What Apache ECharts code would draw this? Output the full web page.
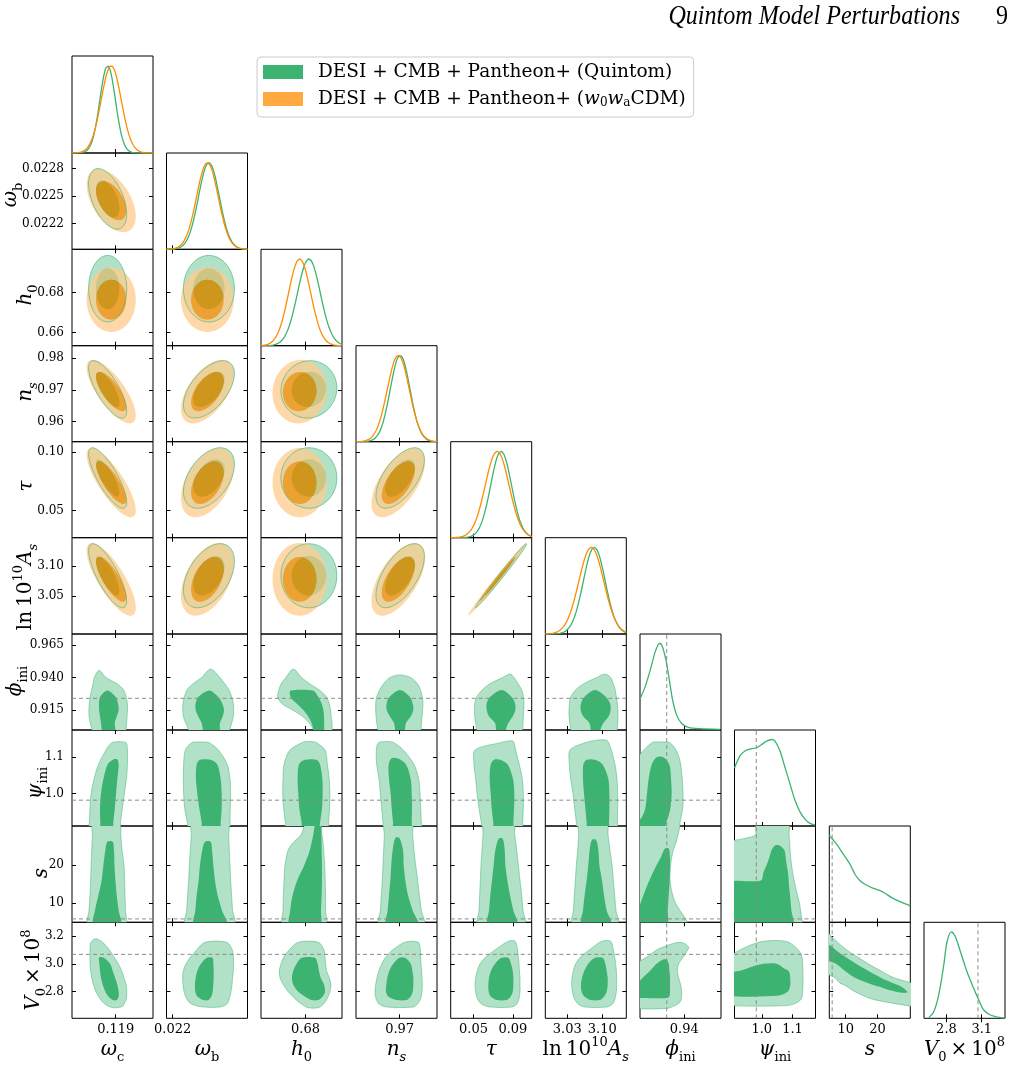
<!DOCTYPE html>
<html>
<head>
<meta charset="utf-8">
<title>Quintom corner plot</title>
<script src="https://cdn.jsdelivr.net/npm/echarts@6/dist/echarts.min.js"></script>
<style>
  html, body { margin: 0; padding: 0; background: #fff; }
  #chart { width: 1014px; height: 1067px; }
</style>
</head>
<body>
<div id="chart"></div>
<script>
// ---- parameters, ranges and ticks ----
const axisMin = [0.1163, 0.02192, 0.6535, 0.95369, 0.0268, 2.986, 0.8996, 0.911, 4.85, 2.609];
const axisMax = [0.1213, 0.02297, 0.7017, 0.98398, 0.1091, 3.148, 0.9735, 1.175, 30.35, 3.298];
const xTickLabels = [['0.119'], ['0.022'], ['0.68'], ['0.97'], ['0.05', '0.09'], ['3.03', '3.10'], ['0.94'], ['1.0', '1.1'], ['10', '20'], ['2.8', '3.1']];
const yTickLabels = [[], ['0.0222', '0.0225', '0.0228'], ['0.66', '0.68'], ['0.96', '0.97', '0.98'], ['0.05', '0.10'], ['3.05', '3.10'], ['0.915', '0.940', '0.965'], ['1.0', '1.1'], ['10', '20'], ['2.8', '3.0', '3.2']];
const refValues = [null, null, null, null, null, null, 0.924, 0.982, 5.75, 3.068];

// ---- gaussian summaries of the six standard parameters ----
const quintomMean = [0.11850, 0.02247, 0.6820, 0.9702, 0.0780, 3.0840];
const quintomSigma = [0.00048, 0.000135, 0.0068, 0.0037, 0.0106, 0.0220];
const w0waMean = [0.11872, 0.02245, 0.6765, 0.9695, 0.0740, 3.0780];
const w0waSigma = [0.00062, 0.00014, 0.0066, 0.0041, 0.0121, 0.0250];
const corr = [
  [1, -0.5, 0, -0.75, -0.8, -0.78],
  [-0.5, 1, 0, 0.55, 0.45, 0.45],
  [0, 0, 1, 0.05, 0, 0],
  [-0.75, 0.55, 0.05, 1, 0.6, 0.6],
  [-0.8, 0.45, 0, 0.6, 1, 0.993],
  [-0.78, 0.45, 0, 0.6, 0.993, 1]
];

// ---- 1D marginals of the quintom parameters ----
const phiGrid = [0.8996, 0.9042, 0.9088, 0.9133, 0.9164, 0.9179, 0.9203, 0.9234, 0.9264, 0.9294, 0.9331, 0.9376, 0.9437, 0.9544, 0.9726];
const phiDens = [0.36, 0.496, 0.687, 0.897, 0.992, 1.0, 0.954, 0.802, 0.573, 0.344, 0.172, 0.076, 0.031, 0.015, 0.008];
const psiGrid = [0.911, 0.9289, 0.9452, 0.9669, 0.9833, 0.9996, 1.0158, 1.0321, 1.043, 1.0593, 1.0756, 1.0919, 1.1082, 1.1245, 1.1408, 1.1571, 1.1734];
const psiDens = [0.67, 0.81, 0.867, 0.894, 0.905, 0.943, 0.981, 1.0, 0.981, 0.867, 0.677, 0.487, 0.297, 0.163, 0.08, 0.03, 0.011];
const sGrid = [4.85, 7.16, 9.26, 11.36, 12.94, 14.3, 16.08, 18.18, 20.28, 22.38, 24.48, 27.1, 30.35];
const sDens = [1.0, 0.9, 0.785, 0.669, 0.554, 0.488, 0.438, 0.4, 0.373, 0.335, 0.285, 0.238, 0.19];
const v0Grid = [2.649, 2.692, 2.734, 2.777, 2.805, 2.842, 2.876, 2.919, 2.975, 3.032, 3.075, 3.117, 3.174, 3.259, 3.298];
const v0Dens = [0.008, 0.077, 0.269, 0.615, 0.885, 1.0, 0.942, 0.769, 0.538, 0.346, 0.212, 0.096, 0.038, 0.008, 0.004];

// ---- 2D contours involving quintom parameters: [rowValue, colLeft, colRight] per level ----
const phiOuter = [
  [[0.9455,0.11797,0.11797],[0.94,0.11768,0.1184],[0.935,0.1176,0.1191],[0.93,0.1175,0.11951],[0.92,0.11737,0.11972],[0.91,0.11735,0.1197],[0.90,0.11752,0.11964],[0.893,0.11756,0.11962]],
  [[0.9465,0.022492,0.022492],[0.94,0.022376,0.022613],[0.935,0.022259,0.022678],[0.93,0.022181,0.022734],[0.92,0.022134,0.022786],[0.91,0.022138,0.022786],[0.90,0.022203,0.022743],[0.893,0.022216,0.022734]],
  [[0.9465,0.6727,0.6727],[0.94,0.6683,0.6777],[0.935,0.6654,0.6826],[0.93,0.664,0.6886],[0.925,0.6634,0.6925],[0.92,0.6658,0.6941],[0.915,0.6723,0.6949],[0.91,0.6783,0.6953],[0.905,0.6822,0.6957],[0.90,0.6846,0.6959],[0.893,0.6856,0.6961]],
  [[0.942,0.97015,0.97015],[0.94,0.96641,0.97414],[0.935,0.96391,0.97676],[0.93,0.96242,0.97788],[0.925,0.96142,0.9785],[0.92,0.96105,0.97875],[0.91,0.96117,0.97837],[0.90,0.96179,0.978],[0.893,0.96204,0.97788]],
  [[0.9427,0.08707,0.08707],[0.94,0.07962,0.09113],[0.935,0.06607,0.09554],[0.93,0.05828,0.09926],[0.925,0.0532,0.10061],[0.92,0.05116,0.10129],[0.91,0.05116,0.10061],[0.90,0.0532,0.09994],[0.893,0.05387,0.0996]],
  [[0.9427,3.1054,3.1054],[0.94,3.0887,3.1167],[0.935,3.0621,3.1221],[0.93,3.0454,3.1261],[0.925,3.0368,3.1281],[0.92,3.0341,3.1301],[0.91,3.0334,3.1314],[0.90,3.0368,3.1301],[0.893,3.0381,3.1294]]
];
const phiInner = [
  [[0.930,0.11848,0.11848],[0.925,0.11803,0.119],[0.92,0.11797,0.11914],[0.915,0.11797,0.11918],[0.91,0.11803,0.11906],[0.905,0.11809,0.11894],[0.90,0.11813,0.11898],[0.893,0.11815,0.119]],
  [[0.930,0.022475,0.022475],[0.925,0.022332,0.022592],[0.92,0.022298,0.022643],[0.915,0.022298,0.022665],[0.91,0.022332,0.022648],[0.905,0.022376,0.022613],[0.90,0.022389,0.022613],[0.893,0.022389,0.022613]],
  [[0.9298,0.6711,0.6846],[0.925,0.6711,0.6876],[0.92,0.6747,0.6896],[0.915,0.6787,0.6906],[0.91,0.6816,0.691],[0.905,0.6836,0.6911],[0.90,0.6846,0.6911],[0.893,0.685,0.6911]],
  [[0.9304,0.97015,0.97015],[0.925,0.96616,0.97389],[0.92,0.96516,0.97488],[0.915,0.96516,0.97513],[0.91,0.96641,0.97414],[0.905,0.9679,0.97239],[0.90,0.96828,0.97202],[0.893,0.96828,0.97202]],
  [[0.9304,0.0786,0.0786],[0.925,0.06675,0.08876],[0.92,0.06336,0.09215],[0.915,0.06336,0.09249],[0.91,0.06573,0.08978],[0.905,0.07183,0.08537],[0.90,0.07285,0.08301],[0.893,0.07285,0.08301]],
  [[0.9304,3.0854,3.0854],[0.925,3.0641,3.1074],[0.92,3.0574,3.1154],[0.915,3.0567,3.1167],[0.91,3.0621,3.1127],[0.905,3.0741,3.1021],[0.90,3.0767,3.0967],[0.893,3.0767,3.0967]]
];
const psiOuter = [
  [[1.143,0.11906,0.11927],[1.14,0.11875,0.11964],[1.12,0.1184,0.11972],[1.08,0.11793,0.11972],[1.04,0.11766,0.11966],[1.00,0.11748,0.11953],[0.96,0.11741,0.11941],[0.92,0.11737,0.11929],[0.90,0.11737,0.11927]],
  [[1.142,0.022311,0.022419],[1.14,0.022246,0.022475],[1.12,0.022164,0.022592],[1.08,0.022142,0.022708],[1.04,0.022138,0.022743],[1.00,0.022142,0.022751],[0.96,0.022155,0.022747],[0.92,0.02219,0.022743],[0.90,0.022207,0.022743]],
  [[1.143,0.6796,0.6846],[1.14,0.6777,0.6866],[1.12,0.6707,0.6916],[1.08,0.6672,0.693],[1.04,0.6666,0.6941],[1.00,0.6664,0.6945],[0.96,0.667,0.6943],[0.92,0.668,0.6937],[0.90,0.6683,0.6935]],
  [[1.143,0.96391,0.96641],[1.14,0.96204,0.9679],[1.12,0.96129,0.97139],[1.08,0.96142,0.97538],[1.04,0.96229,0.97713],[1.00,0.96279,0.97763],[0.96,0.96329,0.97788],[0.92,0.96379,0.97813],[0.90,0.96404,0.97825]],
  [[1.145,0.08537,0.08978],[1.14,0.07693,0.09113],[1.12,0.0515,0.09282],[1.08,0.05049,0.09655],[1.04,0.05218,0.0996],[1.00,0.05354,0.10061],[0.96,0.05557,0.10061],[0.92,0.05794,0.09994],[0.90,0.05929,0.09994]],
  [[1.147,3.0887,3.1087],[1.14,3.0654,3.1127],[1.12,3.0354,3.1181],[1.08,3.0341,3.1254],[1.04,3.0368,3.1294],[1.00,3.0414,3.1307],[0.96,3.0447,3.1307],[0.92,3.0481,3.1301],[0.90,3.0494,3.1301]],
  [[1.142,0.9133,0.9224],[1.14,0.9103,0.927],[1.12,0.9033,0.9325],[1.10,0.898,0.9352],[1.08,0.8966,0.9367],[1.04,0.8966,0.9382],[1.00,0.8966,0.9389],[0.96,0.8966,0.9386],[0.92,0.8966,0.9361],[0.90,0.8966,0.9355]]
];
const psiInner = [
  [[1.094,0.11885,0.1191],[1.08,0.1185,0.11918],[1.04,0.11824,0.1191],[1.00,0.11809,0.11902],[0.96,0.11803,0.11894],[0.92,0.11805,0.11885],[0.90,0.11807,0.11881]],
  [[1.093,0.022354,0.022492],[1.08,0.022311,0.022579],[1.04,0.022302,0.022622],[1.00,0.02232,0.022635],[0.96,0.022345,0.022635],[0.92,0.022376,0.022622],[0.90,0.022384,0.022613]],
  [[1.093,0.6796,0.6866],[1.08,0.6761,0.6886],[1.04,0.6753,0.69],[1.00,0.6757,0.6902],[0.96,0.6763,0.6898],[0.92,0.6777,0.6886],[0.90,0.6783,0.6876]],
  [[1.097,0.96703,0.96915],[1.08,0.96591,0.97239],[1.04,0.96603,0.97414],[1.00,0.96666,0.97451],[0.96,0.96703,0.97464],[0.92,0.96753,0.97451],[0.90,0.96765,0.97451]],
  [[1.093,0.07081,0.07693],[1.08,0.06742,0.0847],[1.04,0.0664,0.09012],[1.00,0.06742,0.09147],[0.96,0.06844,0.09113],[0.92,0.07013,0.09045],[0.90,0.07081,0.09012]],
  [[1.093,3.0687,3.0854],[1.08,3.0621,3.1007],[1.04,3.0614,3.1121],[1.00,3.0634,3.1141],[0.96,3.0661,3.1141],[0.92,3.0687,3.1134],[0.90,3.0701,3.1127]],
  [[1.10,0.9148,0.9209],[1.08,0.9103,0.9264],[1.04,0.9075,0.9279],[1.00,0.906,0.9285],[0.96,0.9045,0.9273],[0.94,0.9021,0.9258],[0.92,0.8981,0.9234],[0.90,0.8966,0.9218]]
];
const sOuter = [
  [[31,0.1176,0.11922],[28,0.11756,0.11931],[24,0.11752,0.11939],[20,0.11748,0.11951],[16,0.11745,0.11955],[12,0.11741,0.11957],[8,0.11735,0.1196],[4,0.11729,0.1196]],
  [[31,0.02225,0.022717],[28,0.022242,0.022726],[24,0.022229,0.022734],[20,0.022216,0.022743],[16,0.022207,0.022752],[12,0.022194,0.022764],[8,0.022181,0.022777],[4,0.022168,0.022799]],
  [[31,0.6803,0.6886],[28,0.6773,0.6898],[26,0.6727,0.6904],[24,0.6697,0.6908],[20,0.6678,0.6914],[16,0.6672,0.6917],[12,0.6668,0.6919],[8,0.6666,0.6919],[4,0.6664,0.6919]],
  [[31,0.96441,0.97451],[28,0.96429,0.97488],[24,0.96404,0.97538],[20,0.96379,0.976],[16,0.96354,0.97675],[12,0.96316,0.97738],[8,0.96279,0.97813],[4,0.96229,0.97912]],
  [[31,0.06065,0.09045],[28,0.05963,0.09181],[24,0.05862,0.09384],[20,0.0576,0.09554],[16,0.05692,0.09723],[12,0.05624,0.09892],[8,0.05557,0.10028],[4,0.05455,0.10197]],
  [[31,3.0541,3.1087],[28,3.0527,3.1114],[24,3.0507,3.1154],[20,3.0481,3.1194],[16,3.0461,3.1221],[12,3.0441,3.1247],[8,3.0421,3.1274],[4,3.0401,3.1307]],
  [[31,0.8966,0.9349],[28,0.8966,0.9343],[26,0.8966,0.9325],[24,0.8966,0.93],[22,0.8966,0.9285],[20,0.8966,0.9276],[16,0.8966,0.927],[12,0.8966,0.9294],[10,0.8966,0.9319],[8,0.8966,0.9361],[6,0.8966,0.9407],[4,0.8966,0.9437]],
  [[31,0.9832,1.0865],[28,0.9789,1.0887],[27,0.9398,1.0898],[26,0.8963,1.0908],[22,0.8963,1.0941],[18,0.8963,1.1006],[14,0.8963,1.1104],[10,0.8963,1.1224],[6,0.8963,1.1299],[4,0.8963,1.1321]]
];
const sInner = [
  [[26.2,0.11848,0.11881],[24,0.11836,0.11889],[20,0.11824,0.11892],[16,0.11813,0.11898],[12,0.11793,0.11906],[8,0.11772,0.11918],[4,0.11762,0.11931]],
  [[26.2,0.022419,0.022492],[24,0.022384,0.02251],[20,0.022354,0.022527],[16,0.022337,0.022548],[12,0.022311,0.022583],[8,0.022294,0.022639],[4,0.022276,0.022708]],
  [[31,0.686,0.689],[28,0.6846,0.6894],[24,0.6826,0.6896],[20,0.6793,0.6898],[16,0.6751,0.6898],[12,0.6723,0.6896],[8,0.6709,0.6892],[4,0.6705,0.6886]],
  [[27.2,0.9684,0.9699],[24,0.9674,0.97127],[20,0.9669,0.97152],[16,0.96653,0.97214],[12,0.96603,0.97314],[8,0.96553,0.97488],[4,0.96504,0.977]],
  [[27,0.07556,0.07962],[24,0.07217,0.08166],[20,0.07047,0.08233],[16,0.06878,0.08436],[12,0.06709,0.08707],[8,0.06573,0.09045],[4,0.06438,0.09452]],
  [[26.7,3.0794,3.0874],[24,3.0747,3.0921],[20,3.0721,3.0941],[16,3.0687,3.0994],[12,3.0647,3.1034],[8,3.0614,3.1087],[4,3.0581,3.1181]],
  [[24.4,0.9224,0.9258],[22,0.9185,0.927],[20,0.9148,0.927],[16,0.9082,0.9267],[12,0.9027,0.9258],[8,0.8981,0.9249],[4,0.8966,0.924]],
  [[25.2,1.043,1.0571],[24,1.0321,1.0735],[22,1.0245,1.0778],[20,1.0158,1.0812],[18,1.005,1.0854],[16,0.9985,1.0876],[15.7,0.9615,1.0876],[15.5,0.8963,1.0876],[12,0.8963,1.0919],[8,0.8963,1.0963],[4,0.8963,1.1006]]
];
const v0Outer = [
  [[3.178,0.11768,0.11787],[3.15,0.11745,0.11824],[3.1,0.11741,0.11861],[3.05,0.11741,0.11889],[3.0,0.11741,0.11916],[2.95,0.11745,0.11937],[2.9,0.11752,0.11951],[2.85,0.11762,0.11964],[2.8,0.11778,0.11968],[2.75,0.11803,0.11966],[2.72,0.11824,0.11955],[2.695,0.11855,0.11943],[2.685,0.11885,0.11906]],
  [[3.155,0.022419,0.0227],[3.1,0.022311,0.022773],[3.05,0.022233,0.022786],[3.0,0.022173,0.02279],[2.95,0.022138,0.022786],[2.9,0.022129,0.022777],[2.85,0.022134,0.022769],[2.8,0.022147,0.022756],[2.75,0.022181,0.022734],[2.71,0.022246,0.0227],[2.69,0.022397,0.022613]],
  [[3.155,0.6757,0.6876],[3.1,0.6703,0.691],[3.05,0.6672,0.6916],[3.0,0.6654,0.692],[2.95,0.6644,0.6925],[2.9,0.6648,0.6941],[2.85,0.6668,0.6951],[2.8,0.6697,0.6945],[2.75,0.6737,0.6929],[2.71,0.6777,0.6906],[2.685,0.6816,0.6876]],
  [[3.155,0.97202,0.977],[3.1,0.9674,0.97775],[3.05,0.96491,0.97788],[3.0,0.96329,0.978],[2.95,0.96229,0.97825],[2.9,0.96154,0.97837],[2.85,0.96105,0.9785],[2.8,0.9608,0.97837],[2.75,0.96117,0.97788],[2.71,0.96242,0.97663],[2.69,0.96516,0.97513]],
  [[3.162,0.08537,0.09215],[3.1,0.07183,0.09486],[3.05,0.06268,0.09554],[3.0,0.05658,0.09621],[2.95,0.05387,0.09655],[2.9,0.05218,0.09723],[2.85,0.0515,0.09723],[2.8,0.05218,0.09723],[2.75,0.05387,0.09621],[2.71,0.05828,0.09384],[2.69,0.06675,0.08876]],
  [[3.162,3.0987,3.1167],[3.1,3.0741,3.1221],[3.05,3.0567,3.1247],[3.0,3.0467,3.1267],[2.95,3.0421,3.1281],[2.9,3.0394,3.1287],[2.85,3.0388,3.1287],[2.8,3.0401,3.1281],[2.75,3.0441,3.1254],[2.71,3.0521,3.1201],[2.69,3.0654,3.1087]],
  [[3.15,0.9316,0.9392],[3.12,0.9209,0.944],[3.1,0.9148,0.9431],[3.05,0.9063,0.9392],[3.0,0.8966,0.9349],[2.95,0.8966,0.9337],[2.9,0.8966,0.9349],[2.85,0.8966,0.9367],[2.8,0.8966,0.9376],[2.75,0.8966,0.9373],[2.72,0.8966,0.9355],[2.70,0.8966,0.9316],[2.68,0.8966,0.924]],
  [[3.16,0.9995,1.081],[3.1,0.9289,1.1191],[3.05,0.8963,1.1311],[3.0,0.8963,1.1332],[2.9,0.8963,1.1343],[2.8,0.8963,1.1332],[2.75,0.8963,1.1289],[2.72,0.8963,1.1137],[2.7,0.8963,1.081]],
  [[3.22,1.92,4.54],[3.2,1.92,5.38],[3.15,1.92,7.69],[3.1,1.92,10.31],[3.05,1.92,13.67],[3.0,1.92,17.13],[2.95,1.92,21.02],[2.9,6.64,25.21],[2.86,8.21,31.3],[2.85,9.47,32.35],[2.8,12.94,32.35],[2.75,17.87,32.35],[2.725,22.9,32.35],[2.705,28.15,32.35],[2.69,32.35,32.35]]
];
const v0Inner = [
  [[3.045,0.11797,0.11824],[3.0,0.11799,0.11865],[2.95,0.11803,0.11881],[2.9,0.11809,0.11896],[2.85,0.1182,0.1191],[2.8,0.11836,0.11918],[2.765,0.11855,0.11918],[2.74,0.11881,0.11906]],
  [[3.042,0.02244,0.022518],[3.0,0.022367,0.022527],[2.95,0.02232,0.022531],[2.9,0.022298,0.022531],[2.85,0.022289,0.022527],[2.8,0.022294,0.022518],[2.765,0.02232,0.022501],[2.74,0.022397,0.022462]],
  [[3.043,0.6777,0.6856],[3.0,0.6747,0.6872],[2.95,0.6727,0.688],[2.9,0.6719,0.689],[2.85,0.6727,0.691],[2.8,0.6757,0.6916],[2.765,0.6796,0.6902],[2.74,0.6836,0.6876]],
  [[3.043,0.9699,0.97202],[3.0,0.96765,0.97414],[2.95,0.96616,0.97476],[2.9,0.96541,0.97513],[2.85,0.96504,0.97513],[2.8,0.96491,0.97488],[2.765,0.96578,0.97414],[2.74,0.9689,0.97264]],
  [[3.043,0.0786,0.08537],[3.0,0.07183,0.08808],[2.95,0.06776,0.08978],[2.9,0.06573,0.09045],[2.85,0.06505,0.09045],[2.8,0.06539,0.08978],[2.765,0.06742,0.08774],[2.74,0.07352,0.08368]],
  [[3.043,3.0854,3.1007],[3.0,3.0721,3.1061],[2.95,3.0641,3.1087],[2.9,3.0594,3.1107],[2.85,3.0574,3.1107],[2.8,3.0587,3.1087],[2.765,3.0641,3.1034],[2.74,3.0767,3.0954]],
  [[3.03,0.9203,0.924],[3.0,0.9148,0.9258],[2.95,0.9088,0.9264],[2.9,0.9021,0.927],[2.85,0.8966,0.927],[2.8,0.8966,0.927],[2.765,0.8966,0.9264],[2.755,0.8966,0.924]],
  [[3.0,1.005,1.0484],[2.97,0.9561,1.0701],[2.95,0.9289,1.0865],[2.93,0.8963,1.0908],[2.85,0.8963,1.093],[2.8,0.8963,1.0843],[2.77,0.8963,1.0484]],
  [[3.135,1.92,4.86],[3.1,1.92,6.85],[3.05,1.92,9.89],[3.0,6.95,13.25],[2.95,9.68,17.03],[2.9,12.94,21.12],[2.86,17.13,25.0],[2.85,18.5,26.26],[2.83,21.33,27.94],[2.81,23.95,28.99],[2.795,27.1,29.41]]
];

const nameQ = 'DESI + CMB + Pantheon+ (Quintom)';
const nameW = 'DESI + CMB + Pantheon+ (w0waCDM)';

// ---- styling / layout ----
const N = 10;
const colLeft = [72, 166.5, 261, 356, 450.7, 545.3, 640, 734.5, 829.3, 924];
const rowTop = [56, 153, 249.3, 345.7, 441.7, 537.7, 634, 730, 826, 922.3, 1018.3];
const panelW = 81;
const diagTop = 1.11;
const R68 = 1.5096, R95 = 2.4477;
const greenInner = '#3cb371';
const greenOuter = 'rgb(177,225,198)';
const greenEdge = 'rgba(60,179,113,0.6)';
const orangeInner = 'rgba(255,140,0,0.75)';
const orangeOuter = 'rgba(255,203,140,0.75)';
const serif = 'DejaVu Serif';

const outerByRow = { 6: phiOuter, 7: psiOuter, 8: sOuter, 9: v0Outer };
const innerByRow = { 6: phiInner, 7: psiInner, 8: sInner, 9: v0Inner };
const curveByParam = { 6: [phiGrid, phiDens], 7: [psiGrid, psiDens], 8: [sGrid, sDens], 9: [v0Grid, v0Dens] };

function makeAxis(labels, p, gridIndex, showLabels, isX, position) {
  const vals = labels.map(Number);
  return {
    type: 'value', gridIndex: gridIndex, min: axisMin[p], max: axisMax[p], position: position,
    axisLine: { show: false },
    splitLine: { show: false },
    axisTick: { show: vals.length > 0, inside: true, length: 4, customValues: vals, lineStyle: { color: '#000', width: 1 } },
    axisLabel: {
      show: showLabels && vals.length > 0, customValues: vals,
      fontFamily: serif, fontSize: isX ? 13 : 12, color: '#000', margin: isX ? 5 : 8,
      formatter: function (v) {
        let best = 0;
        vals.forEach((t, k) => { if (Math.abs(t - v) < Math.abs(vals[best] - v)) best = k; });
        return labels[best];
      }
    }
  };
}

function toPoints(api, levels) {
  const left = [], right = [];
  levels.forEach(([y, xl, xr]) => {
    left.push(api.coord([xl, y]));
    if (xr !== xl) right.push(api.coord([xr, y]));
  });
  return left.concat(right.reverse());
}

function ellipse(api, mx, my, sx, sy, rho, r, dir) {
  const pts = [];
  const n = 90;
  const s = Math.sqrt(1 - rho * rho);
  for (let k = 0; k < n; k++) {
    const t = dir * 2 * Math.PI * k / n;
    pts.push(api.coord([mx + r * sx * Math.cos(t), my + r * sy * (rho * Math.cos(t) + s * Math.sin(t))]));
  }
  return pts;
}

function renderGauss(api, cx, cy) {
  const rho = corr[cy][cx];
  const q95 = ellipse(api, quintomMean[cx], quintomMean[cy], quintomSigma[cx], quintomSigma[cy], rho, R95, 1);
  const q68 = ellipse(api, quintomMean[cx], quintomMean[cy], quintomSigma[cx], quintomSigma[cy], rho, R68, 1);
  const w95 = ellipse(api, w0waMean[cx], w0waMean[cy], w0waSigma[cx], w0waSigma[cy], rho, R95, 1);
  const w68r = ellipse(api, w0waMean[cx], w0waMean[cy], w0waSigma[cx], w0waSigma[cy], rho, R68, -1);
  const w68 = ellipse(api, w0waMean[cx], w0waMean[cy], w0waSigma[cx], w0waSigma[cy], rho, R68, 1);
  const ring = w95.concat([w95[0]], w68r, [w68r[0]]);
  return {
    type: 'group', children: [
      { type: 'polygon', shape: { points: q95 }, style: { fill: greenOuter } },
      { type: 'polygon', shape: { points: q68 }, style: { fill: greenInner } },
      { type: 'polygon', shape: { points: ring }, style: { fill: orangeOuter } },
      { type: 'polygon', shape: { points: w68 }, style: { fill: orangeInner } },
      { type: 'polygon', shape: { points: q95 }, style: { fill: 'none', stroke: greenEdge, lineWidth: 1 } }
    ]
  };
}

function renderLevels(api, outer, inner) {
  return {
    type: 'group', children: [
      { type: 'polygon', shape: { points: toPoints(api, outer), smooth: 0.3 }, style: { fill: greenOuter, stroke: greenEdge, lineWidth: 0.8 } },
      { type: 'polygon', shape: { points: toPoints(api, inner), smooth: 0.3 }, style: { fill: greenInner } }
    ]
  };
}

function dashed(a, b) {
  return { type: 'line', shape: { x1: a[0], y1: a[1], x2: b[0], y2: b[1] }, style: { stroke: '#8c8c8c', lineWidth: 1, lineDash: [4, 3] } };
}

function renderRefs(api, i, j) {
  const children = [];
  if (i !== j && refValues[i] != null) {
    children.push(dashed(api.coord([axisMin[j], refValues[i]]), api.coord([axisMax[j], refValues[i]])));
  }
  if (refValues[j] != null) {
    const y0 = i === j ? 0 : axisMin[i], y1 = i === j ? diagTop : axisMax[i];
    children.push(dashed(api.coord([refValues[j], y0]), api.coord([refValues[j], y1])));
  }
  return { type: 'group', children: children };
}

function gaussCurve(p, mean, sigma) {
  const pts = [];
  for (let k = 0; k <= 100; k++) {
    const x = axisMin[p] + (axisMax[p] - axisMin[p]) * k / 100;
    pts.push([x, Math.exp(-0.5 * Math.pow((x - mean) / sigma, 2))]);
  }
  return pts;
}

const grids = [], xAxes = [], yAxes = [], xMirror = [], yMirror = [], series = [];

for (let i = 0; i < N; i++) {
  for (let j = 0; j <= i; j++) {
    const g = grids.length;
    grids.push({ left: colLeft[j], top: rowTop[i], width: panelW, height: rowTop[i + 1] - rowTop[i], show: true, borderColor: '#000', borderWidth: 1, backgroundColor: 'transparent' });
    xAxes.push(makeAxis(xTickLabels[j], j, g, i === N - 1, true, 'bottom'));
    xMirror.push(makeAxis(xTickLabels[j], j, g, false, true, 'top'));
    if (i === j) {
      yAxes.push({ type: 'value', gridIndex: g, min: 0, max: diagTop, position: 'left', axisLine: { show: false }, axisTick: { show: false }, axisLabel: { show: false }, splitLine: { show: false } });
      yMirror.push({ type: 'value', gridIndex: g, min: 0, max: diagTop, position: 'right', axisLine: { show: false }, axisTick: { show: false }, axisLabel: { show: false }, splitLine: { show: false } });
      if (i < 6) {
        series.push({ type: 'line', xAxisIndex: g, yAxisIndex: g, data: gaussCurve(i, quintomMean[i], quintomSigma[i]), showSymbol: false, silent: true, z: 3, lineStyle: { color: greenInner, width: 1.3 } });
        series.push({ type: 'line', xAxisIndex: g, yAxisIndex: g, data: gaussCurve(i, w0waMean[i], w0waSigma[i]), showSymbol: false, silent: true, z: 3, lineStyle: { color: '#ff8c00', width: 1.3 } });
      } else {
        const [gx, gd] = curveByParam[i];
        series.push({ type: 'line', xAxisIndex: g, yAxisIndex: g, data: gx.map((x, k) => [x, gd[k]]), smooth: 0.3, showSymbol: false, silent: true, clip: true, z: 3, lineStyle: { color: greenInner, width: 1.3 } });
      }
    } else {
      yAxes.push(makeAxis(yTickLabels[i], i, g, j === 0, false, 'left'));
      yMirror.push(makeAxis(yTickLabels[i], i, g, false, false, 'right'));
      const mid = [(axisMin[j] + axisMax[j]) / 2, (axisMin[i] + axisMax[i]) / 2];
      if (i < 6) {
        series.push({ type: 'custom', xAxisIndex: g, yAxisIndex: g, clip: true, silent: true, z: 2, data: [mid], renderItem: (p, api) => renderGauss(api, j, i) });
      } else {
        series.push({ type: 'custom', xAxisIndex: g, yAxisIndex: g, clip: true, silent: true, z: 2, data: [mid], renderItem: (p, api) => renderLevels(api, outerByRow[i][j], innerByRow[i][j]) });
      }
    }
    if ((i !== j && refValues[i] != null) || refValues[j] != null) {
      const mid = [(axisMin[j] + axisMax[j]) / 2, i === j ? 0.5 : (axisMin[i] + axisMax[i]) / 2];
      series.push({ type: 'custom', xAxisIndex: g, yAxisIndex: g, clip: true, silent: true, z: 4, data: [mid], renderItem: (p, api) => renderRefs(api, i, j) });
    }
  }
}

// legend carriers
series.push({ type: 'custom', name: nameQ, data: [], xAxisIndex: 0, yAxisIndex: 0, itemStyle: { color: greenInner }, renderItem: () => null });
series.push({ type: 'custom', name: nameW, data: [], xAxisIndex: 0, yAxisIndex: 0, itemStyle: { color: orangeInner }, renderItem: () => null });

// axis titles
const richLabel = {
  i: { fontFamily: serif, fontStyle: 'italic', fontSize: 20, lineHeight: 28 },
  r: { fontFamily: serif, fontSize: 20, lineHeight: 28 },
  sr: { fontFamily: serif, fontSize: 13, lineHeight: 15, verticalAlign: 'bottom' },
  si: { fontFamily: serif, fontStyle: 'italic', fontSize: 13, lineHeight: 15, verticalAlign: 'bottom' },
  pr: { fontFamily: serif, fontSize: 13, lineHeight: 15, verticalAlign: 'top' }
};
const paramTitles = ['{i|ω}{sr|c}', '{i|ω}{sr|b}', '{i|h}{sr|0}', '{i|n}{si|s}', '{i|τ}', '{r|ln\u200910}{pr|10}{i|A}{si|s}', '{i|ϕ}{sr|ini}', '{i|ψ}{sr|ini}', '{i|s}', '{i|V}{sr|0}{r|\u2009×\u200910}{pr|8}'];
const yTitlePos = [null, [11, 195], [26, 295], [26, 392], [27, 486], [26, 587], [16, 681], [36, 783], [42, 873], [34, 970]];

const graphic = [
  { type: 'text', x: 960, y: 17, scaleX: 0.86, style: { text: 'Quintom Model Perturbations', fontFamily: 'Liberation Serif', fontStyle: 'italic', fontSize: 28, fill: '#000', align: 'right', textAlign: 'right', verticalAlign: 'middle', textVerticalAlign: 'middle' } },
  { type: 'text', x: 1008, y: 17, scaleX: 0.86, style: { text: '9', fontFamily: 'Liberation Serif', fontSize: 28, fill: '#000', align: 'right', textAlign: 'right', verticalAlign: 'middle', textVerticalAlign: 'middle' } }
];
for (let p = 0; p < N; p++) {
  graphic.push({ type: 'text', x: colLeft[p] + panelW / 2, y: 1050, style: { text: paramTitles[p], rich: richLabel, fill: '#000', align: 'center', textAlign: 'center', verticalAlign: 'middle', textVerticalAlign: 'middle' } });
  if (p > 0) {
    graphic.push({ type: 'text', x: yTitlePos[p][0], y: yTitlePos[p][1], rotation: Math.PI / 2, style: { text: paramTitles[p], rich: richLabel, fill: '#000', align: 'center', textAlign: 'center', verticalAlign: 'middle', textVerticalAlign: 'middle' } });
  }
}

const chart = echarts.init(document.getElementById('chart'));
chart.setOption({
  animation: false,
  backgroundColor: '#fff',
  textStyle: { fontFamily: serif },
  grid: grids,
  xAxis: xAxes.concat(xMirror),
  yAxis: yAxes.concat(yMirror),
  legend: {
    orient: 'vertical', left: 257, top: 57, selectedMode: false,
    backgroundColor: '#fff', borderColor: '#cccccc', borderWidth: 1, borderRadius: 4,
    padding: [5, 8, 8, 6], itemGap: 7, itemWidth: 40, itemHeight: 14,
    data: [{ name: nameQ, icon: 'rect' }, { name: nameW, icon: 'rect' }],
    formatter: name => name === nameW ? 'DESI + CMB + Pantheon+ ({li|w}{ls|0}{li|w}{ls|a}CDM)' : name,
    textStyle: {
      fontFamily: serif, fontSize: 18.5, color: '#000', lineHeight: 20, padding: [0, 0, 0, 10],
      rich: {
        li: { fontFamily: serif, fontStyle: 'italic', fontSize: 18.5, lineHeight: 20 },
        ls: { fontFamily: serif, fontSize: 12, lineHeight: 12, verticalAlign: 'bottom' }
      }
    }
  },
  graphic: graphic,
  series: series
});
</script>
</body>
</html>
